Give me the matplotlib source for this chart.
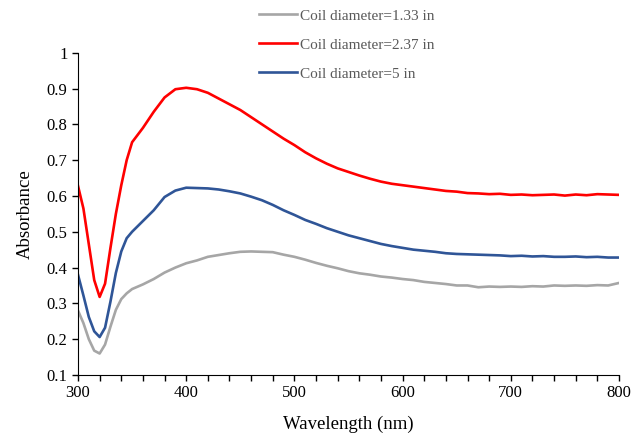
import matplotlib
matplotlib.use("Agg")
import matplotlib.pyplot as plt
from matplotlib.ticker import MultipleLocator

plt.rcParams['font.family'] = ['Liberation Serif', 'DejaVu Serif']

# -------------------------
# DATOS
# -------------------------
wavelength = [300, 305, 310, 315, 320, 325, 330, 335, 340, 345, 350,
              360, 370, 380, 390, 400, 410, 420, 430, 440, 450,
              460, 470, 480, 490, 500, 510, 520, 530, 540, 550,
              560, 570, 580, 590, 600, 610, 620, 630, 640, 650,
              660, 670, 680, 690, 700, 710, 720, 730, 740, 750,
              760, 770, 780, 790, 800]

coil_133 = [0.280, 0.245, 0.200, 0.168, 0.160, 0.185, 0.235, 0.282, 0.312, 0.328, 0.340,
            0.353, 0.368, 0.386, 0.400, 0.412, 0.420, 0.430, 0.435, 0.440, 0.444,
            0.445, 0.444, 0.443, 0.436, 0.430, 0.422, 0.413, 0.405, 0.398, 0.390,
            0.384, 0.380, 0.375, 0.372, 0.368, 0.365, 0.360, 0.357, 0.354, 0.350,
            0.350, 0.345, 0.347, 0.346, 0.347, 0.346, 0.348, 0.347, 0.350, 0.349,
            0.350, 0.349, 0.351, 0.350, 0.357]

coil_237 = [0.628, 0.565, 0.465, 0.365, 0.318, 0.355, 0.455, 0.550, 0.630, 0.700, 0.750,
            0.790, 0.835, 0.875, 0.898, 0.902, 0.898, 0.888, 0.872, 0.856, 0.840,
            0.820, 0.800, 0.780, 0.760, 0.742, 0.722, 0.705, 0.690, 0.677, 0.667,
            0.657, 0.648, 0.640, 0.634, 0.630, 0.626, 0.622, 0.618, 0.614, 0.612,
            0.608, 0.607, 0.605, 0.606, 0.603, 0.604, 0.602, 0.603, 0.604, 0.601,
            0.604, 0.602, 0.605, 0.604, 0.603]

coil_5 = [0.380, 0.322, 0.262, 0.222, 0.206, 0.232, 0.305, 0.385, 0.445, 0.482, 0.500,
          0.530, 0.560, 0.597, 0.615, 0.623, 0.622, 0.621, 0.618, 0.613, 0.607,
          0.598, 0.588, 0.575, 0.560, 0.547, 0.533, 0.522, 0.510, 0.500, 0.490,
          0.482, 0.474, 0.466, 0.460, 0.455, 0.450, 0.447, 0.444, 0.440, 0.438,
          0.437, 0.436, 0.435, 0.434, 0.432, 0.433, 0.431, 0.432, 0.430, 0.430,
          0.431, 0.429, 0.430, 0.428, 0.428]

labels = ["Coil diameter=1.33 in", "Coil diameter=2.37 in", "Coil diameter=5 in"]
colores = ["#A6A6A6", "#FF0000", "#2F5597"]

# -------------------------
# GRAFICA
# -------------------------
fig = plt.figure(figsize=(6.41, 4.48), dpi=100)
ax = fig.add_axes([78 / 641, 1 - 375 / 448, (619 - 78) / 641, (375 - 52.7) / 448])

for serie, lab, col in zip([coil_133, coil_237, coil_5], labels, colores):
    ax.plot(wavelength, serie, color=col, lw=1.9, label=lab, solid_joinstyle='round')

ax.set_xlim(300, 800)
ax.set_ylim(0.1, 1.0)
ax.xaxis.set_major_locator(MultipleLocator(100))
ax.xaxis.set_minor_locator(MultipleLocator(20))
ax.set_yticks([0.1, 0.2, 0.3, 0.4, 0.5, 0.6, 0.7, 0.8, 0.9, 1.0])
ax.set_yticklabels(["0.1", "0.2", "0.3", "0.4", "0.5", "0.6", "0.7", "0.8", "0.9", "1"])

ax.spines['top'].set_visible(False)
ax.spines['right'].set_visible(False)
ax.tick_params(which='both', direction='out', labelsize=12, width=1, length=4, colors='black')

ax.set_xlabel("Wavelength (nm)", fontsize=13.5, labelpad=10)
ax.set_ylabel("Absorbance", fontsize=13.5, labelpad=9)

fig.legend(loc='upper left', bbox_to_anchor=(259 / 641, 1 - 9 / 448), frameon=False,
           fontsize=11, handlelength=2.5, handletextpad=0.2, labelspacing=1.0,
           borderpad=0, borderaxespad=0, labelcolor='#595959')

fig.savefig("out.png", dpi=100)
